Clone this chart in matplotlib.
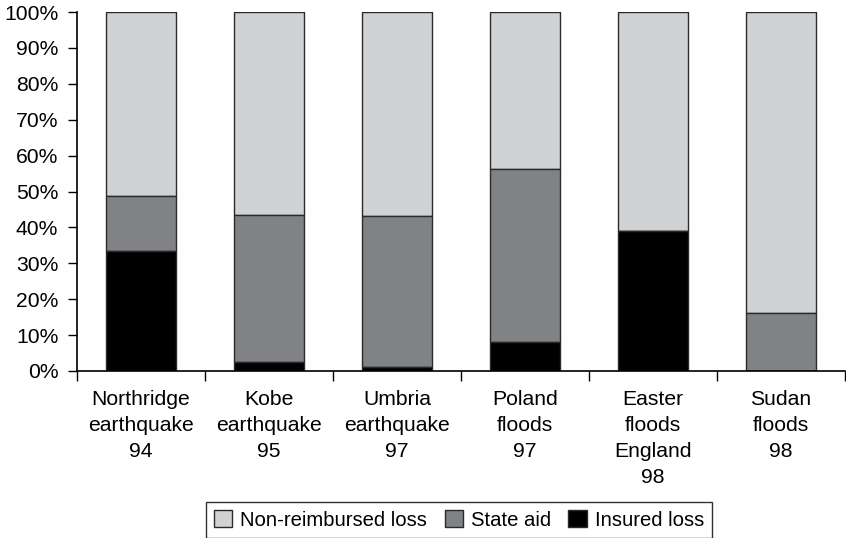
import matplotlib.pyplot as plt
import numpy as np

plt.rcParams['font.family'] = ['Liberation Sans', 'DejaVu Sans']

# data (percent of total loss)
categories = ['Northridge\nearthquake\n94', 'Kobe\nearthquake\n95', 'Umbria\nearthquake\n97',
              'Poland\nfloods\n97', 'Easter\nfloods\nEngland\n98', 'Sudan\nfloods\n98']
insured = [33.5, 2.6, 1.1, 8.0, 38.9, 0.0]
state_aid = [15.3, 40.8, 42.1, 48.2, 0.0, 16.2]
non_reimbursed = [100 - a - b for a, b in zip(insured, state_aid)]

c_light = '#d1d2d4'
c_mid = '#818286'
c_dark = '#000000'
edge = '#2a2a2a'

fig = plt.figure(figsize=(8.46, 5.38), dpi=100)
ax = fig.add_axes([77 / 846, 1 - 371 / 538, 768 / 846, 359 / 538])

x = np.arange(len(categories))
w = 0.55
ins = np.array(insured)
st = np.array(state_aid)
nr = np.array(non_reimbursed)

b3 = ax.bar(x, nr, w, bottom=ins + st, color=c_light, edgecolor=edge, linewidth=1.0,
            label='Non-reimbursed loss')
b2 = ax.bar(x, st, w, bottom=ins, color=c_mid, edgecolor=edge, linewidth=1.0,
            label='State aid')
b1 = ax.bar(x, ins, w, color=c_dark, edgecolor=edge, linewidth=1.0,
            label='Insured loss')

ax.set_xlim(-0.5, len(categories) - 0.5)
ax.set_ylim(0, 100)
ax.set_yticks(range(0, 101, 10))
ax.set_yticklabels([f'{v}%' for v in range(0, 101, 10)], fontsize=15.2)
ax.tick_params(axis='y', length=6.5, width=1, pad=7, color='black')

ax.set_xticks(x)
ax.set_xticklabels(categories, fontsize=15.2, linespacing=1.45)
ax.set_xticks(np.arange(-0.5, len(categories)), minor=True)
ax.tick_params(axis='x', which='major', length=0, pad=14)
ax.tick_params(axis='x', which='minor', length=7, width=1, color='black')

for s in ['top', 'right']:
    ax.spines[s].set_visible(False)
for s in ['left', 'bottom']:
    ax.spines[s].set_linewidth(1.2)

leg = fig.legend(handles=[b3, b2, b1], loc='lower center', bbox_to_anchor=(459 / 846, 0.0),
                 ncol=3, fontsize=14.6, frameon=True, fancybox=False, handlelength=0.9,
                 handleheight=0.9, handletextpad=0.4, columnspacing=0.85,
                 borderpad=0.4, borderaxespad=0.0)
leg.get_frame().set_edgecolor('black')
leg.get_frame().set_linewidth(1.0)

fig.savefig('out.png', dpi=100)
